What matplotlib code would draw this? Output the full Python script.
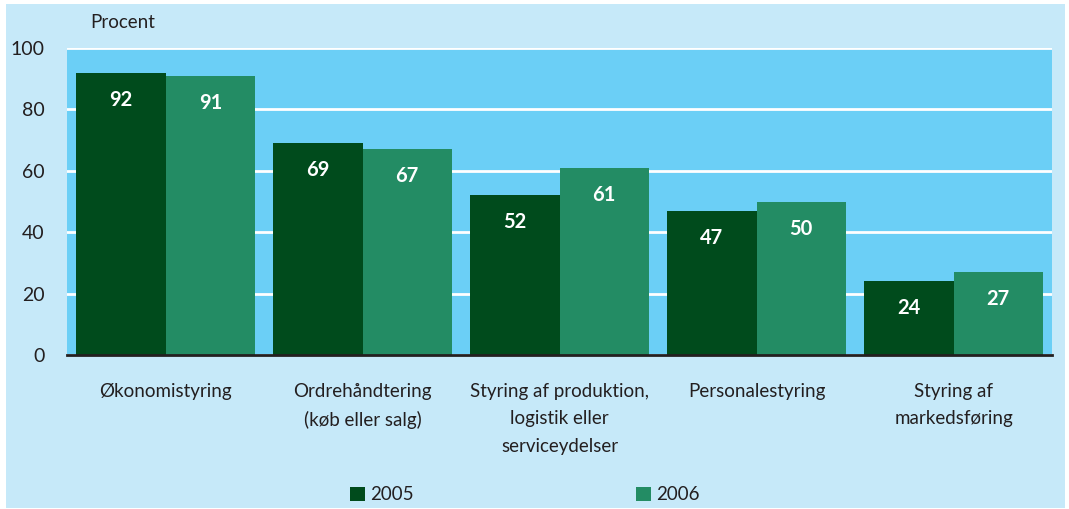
#!/usr/bin/env python3
"""Grouped bar chart: share of firms using IT systems per business area, 2005 vs 2006."""

import matplotlib.pyplot as plt
from matplotlib.patches import Rectangle
import numpy as np

categories = [
    "Økonomistyring",
    "Ordrehåndtering\n(køb eller salg)",
    "Styring af produktion,\nlogistik eller\nserviceydelser",
    "Personalestyring",
    "Styring af\nmarkedsføring",
]
years = ["2005", "2006"]
values_2005 = [92, 69, 52, 47, 24]
values_2006 = [91, 67, 61, 50, 27]

DARK = "#004b1c"
LIGHT = "#238c64"
PLOT_BG = "#6bcff6"
FIG_BG = "#c6e9f9"
TEXT = "#231f20"

plt.rcParams["font.family"] = ["Lato", "DejaVu Sans"]

W, H = 1069, 509
fig = plt.figure(figsize=(W / 100, H / 100), dpi=100, facecolor="white")

# light blue panel behind everything
fig.patches.append(Rectangle((6 / W, 1 / H), (1065 - 6) / W, (505 - 1) / H,
                             transform=fig.transFigure, facecolor=FIG_BG,
                             edgecolor="none", zorder=-10))

ax = fig.add_axes([67 / W, (H - 355) / H, (1052 - 67) / W, (355 - 48) / H])
ax.set_facecolor(PLOT_BG)

x = np.arange(len(categories))
width = 89.5 / 197
b1 = ax.bar(x - width / 2, values_2005, width, color=DARK, zorder=3)
b2 = ax.bar(x + width / 2, values_2006, width, color=LIGHT, zorder=3)

for bars, vals in ((b1, values_2005), (b2, values_2006)):
    for rect, v in zip(bars, vals):
        ax.text(rect.get_x() + rect.get_width() / 2, v - 8.8, str(v),
                ha="center", va="center", color="white", fontsize=14.5,
                fontweight="bold", zorder=4)

ax.set_xlim(-0.5, len(categories) - 0.5)
ax.set_ylim(0, 100)
ax.set_yticks([0, 20, 40, 60, 80, 100])
ax.yaxis.grid(True, color="white", linewidth=2, zorder=1)
ax.set_axisbelow(True)
ax.tick_params(axis="y", length=0, pad=16, labelsize=14, labelcolor=TEXT)
ax.tick_params(axis="x", length=0, pad=20, labelsize=13.5, labelcolor=TEXT)
ax.set_xticks(x)
ax.set_xticklabels(categories, linespacing=1.75, va="top")

for side in ("top", "right", "left"):
    ax.spines[side].set_visible(False)
ax.spines["bottom"].set_color(TEXT)
ax.spines["bottom"].set_linewidth(2)
ax.spines["bottom"].set_zorder(5)

fig.text(90 / W, 1 - 23 / H, "Procent", ha="left", va="center",
         fontsize=13.5, color=TEXT)

# legend drawn by hand to get the wide spacing of the original
for x0, colour, label in ((350, DARK, years[0]), (636, LIGHT, years[1])):
    fig.patches.append(Rectangle((x0 / W, 1 - 501 / H), 15 / W, 14 / H,
                                 transform=fig.transFigure, facecolor=colour,
                                 edgecolor="none"))
    fig.text((x0 + 20) / W, 1 - 494 / H, label, ha="left", va="center",
             fontsize=13.5, color=TEXT)

fig.savefig("out.png", dpi=100, facecolor="white")
